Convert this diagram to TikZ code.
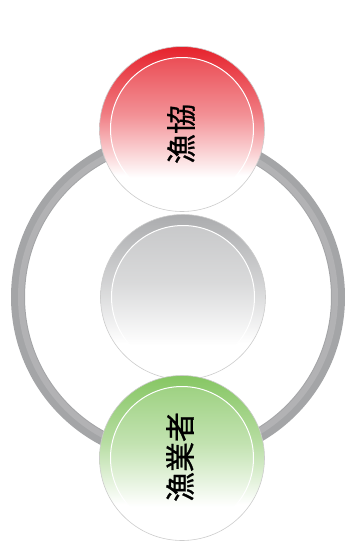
\documentclass[tikz,border=0pt]{standalone}
\usepackage{fontspec}
\usepackage{xcolor}
\newfontfamily\jpfont[FakeBold=0.8]{Noto Sans CJK JP}
\definecolor{ringcol}{HTML}{A4A5A7}
\definecolor{kyocol}{HTML}{E6222C}
\definecolor{gyocol}{HTML}{86C663}
\definecolor{midcol}{HTML}{ABACAE}

% vertical shadings, white at the bottom
\pgfdeclareverticalshading{kyorim}{100bp}{color(0bp)=(white); color(36bp)=(white); color(55bp)=(kyocol!60); color(75bp)=(kyocol); color(100bp)=(kyocol)}
\pgfdeclareverticalshading{kyocore}{100bp}{color(0bp)=(white); color(33bp)=(white); color(55bp)=(kyocol!50); color(75bp)=(kyocol!80); color(100bp)=(kyocol!80)}
\pgfdeclareverticalshading{gyorim}{100bp}{color(0bp)=(white); color(36bp)=(white); color(55bp)=(gyocol!60); color(75bp)=(gyocol); color(100bp)=(gyocol)}
\pgfdeclareverticalshading{gyocore}{100bp}{color(0bp)=(white); color(33bp)=(white); color(55bp)=(gyocol!50); color(75bp)=(gyocol!80); color(100bp)=(gyocol!80)}
\pgfdeclareverticalshading{midrim}{100bp}{color(0bp)=(white); color(36bp)=(white); color(55bp)=(midcol!55); color(75bp)=(midcol); color(100bp)=(midcol)}
\pgfdeclareverticalshading{midcore}{100bp}{color(0bp)=(white); color(33bp)=(white); color(55bp)=(midcol!45); color(75bp)=(midcol!65); color(100bp)=(midcol!65)}

\begin{document}
\begin{tikzpicture}[
  x=1pt, y=-1pt,
  rimdisk/.style={circle, minimum size=165pt, inner sep=0pt, draw=gray!40, line width=0.6pt},
  coredisk/.style={circle, minimum size=143pt, inner sep=0pt, draw=white, line width=1pt},
  ringline/.style={draw=ringcol, line width=14pt},
  ringshine/.style={draw=ringcol!85, line width=6pt},
  rotlabel/.style={font=\jpfont\fontsize{30}{30}\selectfont, rotate=90, inner sep=0pt},
]
\useasboundingbox (0,0) rectangle (346,542);

% outer ring
\coordinate (C) at (178,297);
\draw[ringline] (C) circle (160);
\draw[ringshine] (C) circle (157);

% middle disk
\node[rimdisk, shading=midrim] (MID) at (183,297) {};
\node[coredisk, shading=midcore] (MIDc) at (MID.center) {};

% top disk
\node[rimdisk, shading=kyorim] (KYO) at (182,129) {};
\node[coredisk, shading=kyocore] (KYOc) at (KYO.center) {};
\node[rotlabel] (KYOt) at (181,134) {漁協};

% bottom disk
\node[rimdisk, shading=gyorim] (GYO) at (182,458) {};
\node[coredisk, shading=gyocore] (GYOc) at (GYO.center) {};
\node[rotlabel] (GYOt) at (180,457) {漁業者};

\end{tikzpicture}
\end{document}
